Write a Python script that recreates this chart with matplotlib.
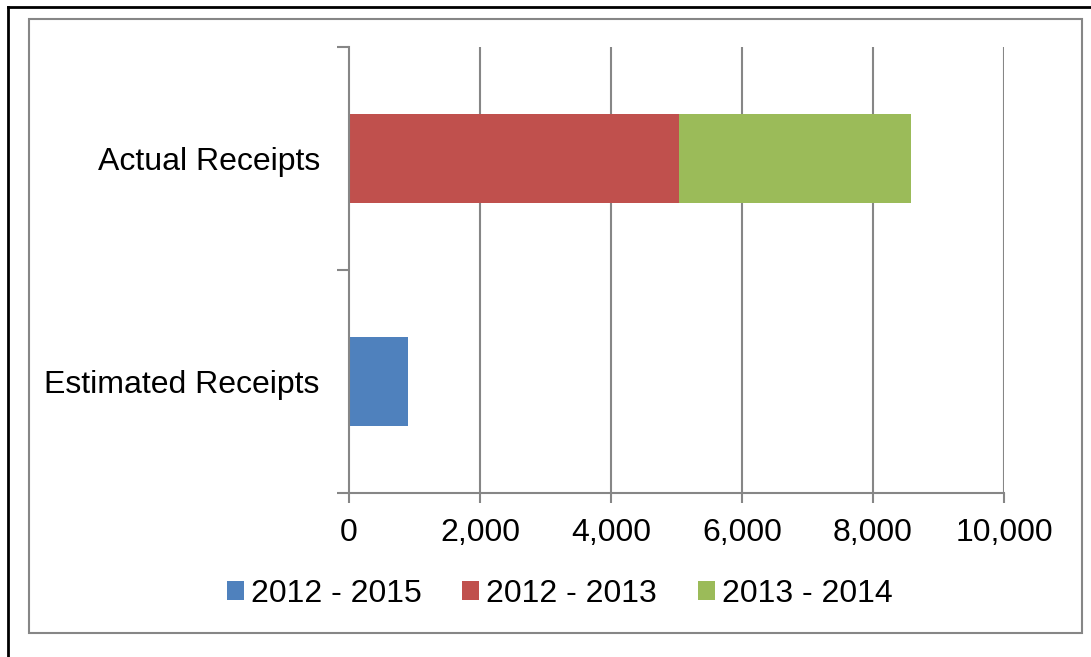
import matplotlib
matplotlib.use("Agg")
from matplotlib import pyplot as plt
from matplotlib.lines import Line2D
from matplotlib.patches import Rectangle
import numpy as np

plt.rcParams['font.family'] = ['Liberation Sans', 'DejaVu Sans']

# data
categories = ["Estimated Receipts", "Actual Receipts"]
series_names = ["2012 - 2015", "2012 - 2013", "2013 - 2014"]
est_2012_2015 = [900, 0]
act_2012_2013 = [0, 5040]
act_2013_2014 = [0, 3545]
colors = ["#4F81BD", "#C0504D", "#9BBB59"]
xticks = [0, 2000, 4000, 6000, 8000, 10000]

W, H = 1091, 657
fig = plt.figure(figsize=(W / 100, H / 100), dpi=100)
ax = fig.add_axes([349 / W, 1 - 493 / H, (1004 - 349) / W, (493 - 47) / H])

gray = "#868686"
fs = 23
y = np.arange(len(categories))
h = 0.4
ax.barh(y, est_2012_2015, height=h, color=colors[0], label=series_names[0])
ax.barh(y, act_2012_2013, height=h, color=colors[1], label=series_names[1])
ax.barh(y, act_2013_2014, height=h, left=act_2012_2013, color=colors[2], label=series_names[2])

ax.set_xlim(0, 10000)
ax.set_ylim(-0.5, 1.5)
ax.set_xticks(xticks)
ax.set_xticklabels(["{:,}".format(v) for v in xticks])
ax.set_yticks(y)
ax.set_yticklabels(categories)
ax.tick_params(axis='y', length=0, labelsize=fs, pad=21)
ax.tick_params(axis='x', length=7, width=1.5, color=gray, labelsize=fs, pad=11)
# category boundary ticks
ax.set_yticks([-0.5, 0.5, 1.5], minor=True)
ax.tick_params(axis='y', which='minor', length=9, width=1.5, color=gray)

for v in xticks[1:]:
    ax.axvline(v, color=gray, lw=1.5, zorder=0)
for s in ["top", "right"]:
    ax.spines[s].set_visible(False)
for s in ["left", "bottom"]:
    ax.spines[s].set_color(gray)
    ax.spines[s].set_linewidth(1.5)

handles, labels = ax.get_legend_handles_labels()
fig.legend(handles, labels, loc="center", bbox_to_anchor=(0.513, 1 - 594 / H),
           ncol=3, frameon=False, fontsize=fs, handlelength=0.53, handleheight=0.53,
           handletextpad=0.22, columnspacing=1.28)

# inner gray frame
fig.add_artist(Rectangle((29 / W, 1 - 633 / H), (1082 - 29) / W, (633 - 19) / H,
                         transform=fig.transFigure, fill=False, ec=gray, lw=1.5))
# outer black frame (left and top)
fig.add_artist(Line2D([8 / W, 8 / W], [0, 1 - 7 / H], transform=fig.transFigure, color="black", lw=2))
fig.add_artist(Line2D([8 / W, 1], [1 - 7 / H, 1 - 7 / H], transform=fig.transFigure, color="black", lw=2))

plt.savefig("out.png", dpi=100)
